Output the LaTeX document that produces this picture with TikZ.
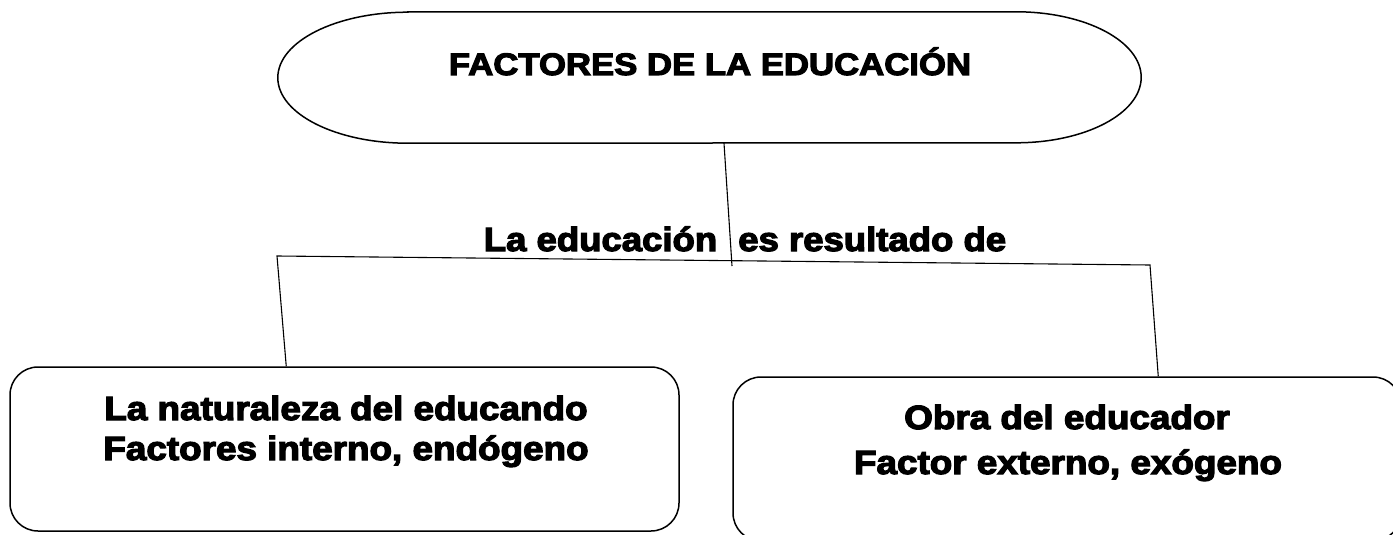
\documentclass[tikz,border=0pt]{standalone}
\usepackage{graphicx}
\usepackage{fontspec}
\newfontfamily\heavy{Liberation Sans Bold}[FakeBold=3.5]
\usetikzlibrary{calc}
\begin{document}
\begin{tikzpicture}[x=1pt,y=-1pt,
  shape line/.style={line width=1.5pt},
  box/.style={draw, shape line, rounded corners=28pt, inner sep=0pt, minimum height=164pt},
  link/.style={line width=1.1pt},
  txt/.style={anchor=base, inner sep=0pt, font=\heavy\fontsize{33.5}{36}\selectfont},
  ttl/.style={anchor=base, inner sep=0pt, font=\heavy\fontsize{31}{34}\selectfont}]
\useasboundingbox (0,0) rectangle (1393,535);

% top shape
\node[minimum width=863pt, minimum height=131pt, inner sep=0pt] (top) at (709.5,77.5) {};
\draw[shape line] ($(top.north west)+(130,0)$) -- ($(top.north east)+(-125,0)$)
  arc[start angle=90, end angle=-90, x radius=125pt, y radius=65.5pt]
  -- ($(top.south west)+(130,0)$)
  arc[start angle=270, end angle=90, x radius=130pt, y radius=65.5pt] -- cycle;
\node[ttl] (title) at (710,75) {\scalebox{1.12}[1]{FACTORES DE LA EDUCACIÓN}};

% middle label
\node[txt] (mid) at (745,251) {\scalebox{1.09}[1]{La educación\hspace{0.3em} es resultado de}};

% boxes
\node[box, minimum width=669pt] (box1) at (344.5,449) {};
\node[box, minimum width=668pt] (box2) at (1067,459) {};

\node[txt] (b1a) at (346,420) {\scalebox{1.10}[1]{La naturaleza del educando}};
\node[txt] (b1b) at (346,460) {\scalebox{1.10}[1]{Factores interno, endógeno}};
\node[txt] (b2a) at (1067,429) {\scalebox{1.10}[1]{Obra del educador}};
\node[txt] (b2b) at (1068,474) {\scalebox{1.10}[1]{Factor externo, exógeno}};

% connectors
\coordinate (c1) at ($(top.south)+(14.5,0)$);
\coordinate (c2) at (732,266);
\coordinate (hl) at (277,256);
\coordinate (hr) at (1150,265);
\draw[link] (c1) -- (c2);
\draw[link] ($(box1.north west)+(277,0)$) -- (hl) -- (hr) -- ($(box2.north west)+(426,0)$);
\end{tikzpicture}
\end{document}
